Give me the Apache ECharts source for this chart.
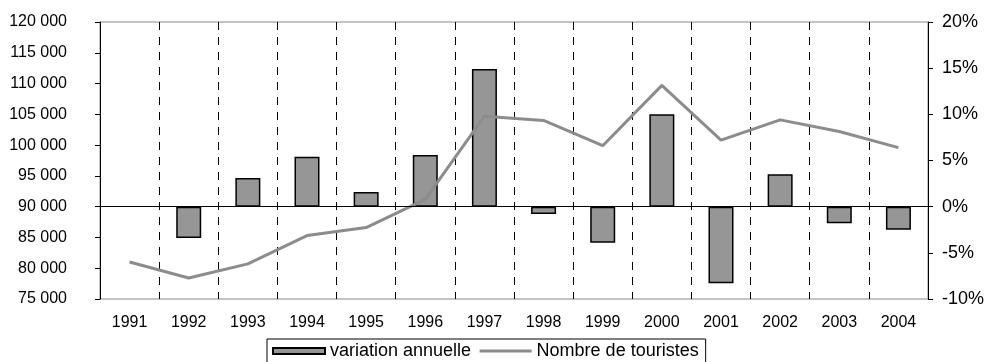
<!DOCTYPE html>
<html lang="fr">
<head>
    <meta charset="UTF-8">
    <script src="https://cdn.jsdelivr.net/npm/echarts@6/dist/echarts.min.js"></script>
    <style>
        html, body { margin: 0; padding: 0; background: #fff; }
        #chart { width: 989px; height: 362px; }
    </style>
</head>
<body>
    <div id="chart"></div>
    <script>
        // années
        const years = ['1991', '1992', '1993', '1994', '1995', '1996', '1997',
                       '1998', '1999', '2000', '2001', '2002', '2003', '2004']
        // variation annuelle (%), pas de valeur pour 1991
        const variation = [null, -3.4, 3.1, 5.4, 1.6, 5.6, 14.9, -0.8, -3.9, 10.0, -8.3, 3.5, -1.8, -2.5]
        // nombre de touristes
        const touristes = [81000, 78400, 80700, 85300, 86600, 91200, 104700,
                           104000, 99900, 109700, 100800, 104100, 102200, 99600]

        const font = 'Liberation Sans, Arial, sans-serif'

        // format "120 000"
        function fmtNombre(v) {
            return String(v).replace(/\B(?=(\d{3})+(?!\d))/g, ' ')
        }

        var myChart = echarts.init(document.getElementById('chart'))
        var option = {
            animation: false,
            textStyle: { fontFamily: font, color: '#000' },
            grid: {
                left: 100, right: 61, top: 22, bottom: 63,
                show: true, borderColor: '#888', borderWidth: 1
            },
            legend: {
                left: 267, top: 339,
                itemGap: 7, itemWidth: 52, itemHeight: 6,
                padding: [3, 7, 10, 5],
                borderColor: '#000', borderWidth: 1,
                textStyle: { fontFamily: font, fontSize: 18, color: '#000' },
                data: [
                    { name: 'variation annuelle', icon: 'rect' },
                    { name: 'Nombre de touristes', itemStyle: { opacity: 0 }, lineStyle: { width: 3, color: '#8c8c8c' } }
                ]
            },
            xAxis: {
                type: 'category',
                data: years,
                boundaryGap: true,
                axisLine: { show: false },
                axisTick: { show: false },
                axisLabel: { fontSize: 16, margin: 16, color: '#000', fontFamily: font },
                splitLine: {
                    show: true,
                    lineStyle: { color: '#000', type: [8, 7], width: 1 }
                }
            },
            yAxis: [
                {
                    type: 'value',
                    min: 75000, max: 120000, interval: 5000,
                    axisLine: { show: true, lineStyle: { color: '#000' } },
                    axisTick: { show: true, inside: false, length: 5, lineStyle: { color: '#000' } },
                    axisLabel: { fontSize: 16, margin: 33, color: '#000', fontFamily: font, formatter: fmtNombre },
                    splitLine: { show: false }
                },
                {
                    type: 'value',
                    min: -10, max: 20, interval: 5,
                    axisLine: { show: true, lineStyle: { color: '#000' } },
                    axisTick: { show: true, inside: false, length: 5, lineStyle: { color: '#000' } },
                    axisLabel: { fontSize: 18, margin: 14, color: '#000', fontFamily: font, formatter: '{value}%' },
                    splitLine: { show: false }
                }
            ],
            series: [
                {
                    name: 'variation annuelle',
                    type: 'bar',
                    yAxisIndex: 1,
                    data: variation,
                    barWidth: 25,
                    itemStyle: { color: '#969696', borderColor: '#000', borderWidth: 1.5 },
                    markLine: {
                        silent: true,
                        symbol: 'none',
                        label: { show: false },
                        lineStyle: { color: '#000', type: 'solid', width: 1 },
                        data: [{ yAxis: 0 }]
                    },
                    z: 2
                },
                {
                    name: 'Nombre de touristes',
                    type: 'line',
                    yAxisIndex: 0,
                    data: touristes,
                    symbol: 'none',
                    lineStyle: { color: '#8c8c8c', width: 3 },
                    itemStyle: { color: '#8c8c8c' },
                    z: 3
                }
            ]
        }
        myChart.setOption(option)
    </script>
</body>
</html>
